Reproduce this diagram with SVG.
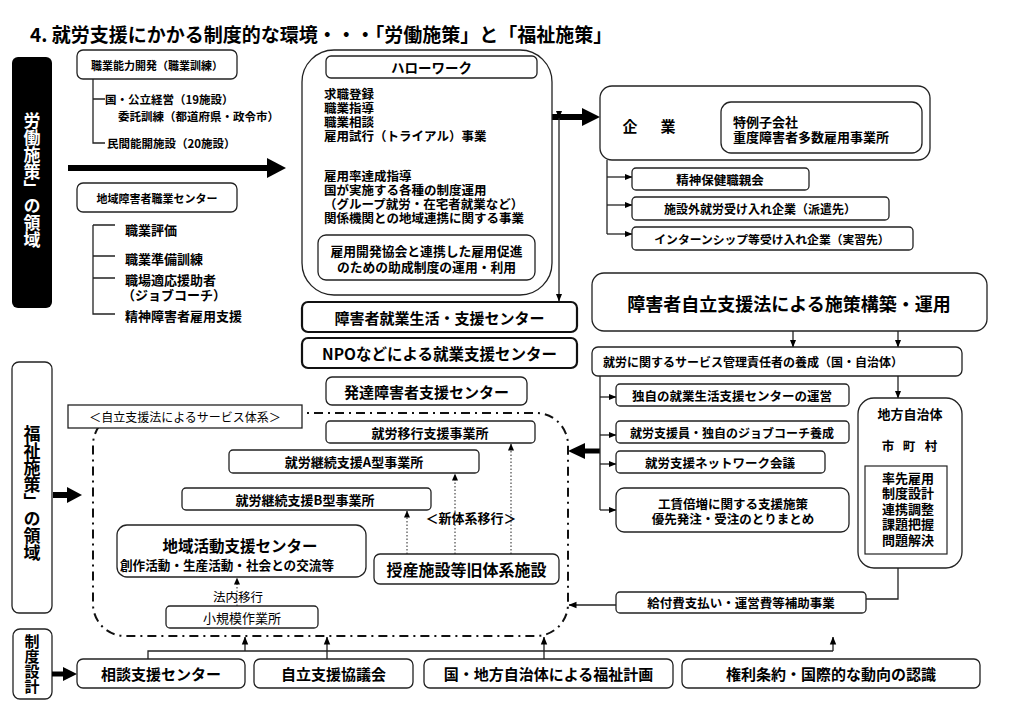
<svg xmlns="http://www.w3.org/2000/svg" width="1023" height="708" viewBox="0 0 1023 708">
<defs>
<marker id="ah" markerWidth="8" markerHeight="8" refX="7.5" refY="4" orient="auto" markerUnits="userSpaceOnUse"><path d="M0,0.8 L8,4 L0,7.2 z" fill="#000"/></marker>
<marker id="ahs" markerWidth="7" markerHeight="7" refX="6.5" refY="3.5" orient="auto" markerUnits="userSpaceOnUse"><path d="M0,0.5 L7,3.5 L0,6.5 z" fill="#000"/></marker>
</defs>
<style>
text{font-family:"Noto Sans CJK JP","Noto Sans CJK SC",sans-serif;font-weight:700;fill:#000;dominant-baseline:central}
.box{fill:#fff;stroke:#222;stroke-width:1.3}
.bx2{fill:#fff;stroke:#111;stroke-width:2.2}
.ln{fill:none;stroke:#222;stroke-width:1.3}
.c{text-anchor:middle}
.dot{fill:none;stroke:#222;stroke-width:1;stroke-dasharray:1.5 2}
.dd{fill:none;stroke:#111;stroke-width:2;stroke-dasharray:9 5 2 5}
.v{writing-mode:vertical-rl;text-anchor:middle}
.thick{stroke:#000;fill:none}
</style>
<rect width="1023" height="708" fill="#fff"/>

<text x="30" y="33" style="font-size:19px">4. 就労支援にかかる制度的な環境・・・「労働施策」と「福祉施策」</text>

<g id="labor-label">
<rect x="12" y="57" width="40" height="251" rx="6" fill="#000"/>
<text class="v" x="32" y="180" style="font-size:17px;fill:#fff">労働施策」の領域</text>
</g>

<g id="welfare-label">
<rect x="12" y="362" width="40" height="251" rx="7" class="box"/>
<text class="v" x="32" y="493" style="font-size:17px">福祉施策」の領域</text>
</g>

<g id="system-label">
<rect x="13" y="629" width="39" height="70" rx="7" class="box"/>
<text class="v" x="32" y="664" style="font-size:15px">制度設計</text>
</g>

<g id="connectors">
<path class="ln" d="M93,79 V143 H105 M93,99 H105"/>
<path class="ln" d="M93,225 V314 H115 M93,225 H115 M93,256 H115 M93,278 H115"/>
<line class="thick" x1="68" y1="168" x2="270" y2="168" stroke-width="6"/>
<polygon points="267,158 286,168 267,178" fill="#000"/>
<line class="thick" x1="552" y1="117" x2="585" y2="117" stroke-width="6"/>
<polygon points="582,108 600,117 582,126" fill="#000"/>
<line class="thick" x1="600" y1="451" x2="582" y2="451" stroke-width="5"/>
<polygon points="585,443 568,451 585,459" fill="#000"/>
<line class="thick" x1="53" y1="495" x2="70" y2="495" stroke-width="6"/>
<polygon points="67,487 82,495 67,503" fill="#000"/>
<line class="thick" x1="52" y1="674" x2="66" y2="674" stroke-width="5"/>
<polygon points="63,667 77,674 63,681" fill="#000"/>
<line class="ln" x1="559" y1="118" x2="559" y2="301" marker-start="url(#ah)" marker-end="url(#ah)"/>
<path class="ln" d="M607,160 V234"/>
<line class="ln" x1="607" y1="177" x2="632" y2="177" marker-end="url(#ah)"/>
<line class="ln" x1="607" y1="205" x2="632" y2="205" marker-end="url(#ah)"/>
<line class="ln" x1="607" y1="234" x2="632" y2="234" marker-end="url(#ah)"/>
<polygon points="802,179 808,174 808,182" fill="#000"/>
<line class="ln" x1="793" y1="331" x2="793" y2="347" marker-end="url(#ah)"/>
<line class="ln" x1="898" y1="331" x2="898" y2="347" marker-end="url(#ah)"/>
<line class="ln" x1="898" y1="376" x2="898" y2="398" marker-end="url(#ah)"/>
<path class="ln" d="M600,376 V510"/>
<line class="ln" x1="600" y1="397" x2="616" y2="397" marker-end="url(#ah)"/>
<line class="ln" x1="600" y1="435" x2="616" y2="435" marker-end="url(#ah)"/>
<line class="ln" x1="600" y1="464" x2="616" y2="464" marker-end="url(#ah)"/>
<line class="ln" x1="600" y1="510" x2="616" y2="510" marker-end="url(#ah)"/>
<path class="ln" d="M898,568 V599 H866"/>
<line class="ln" x1="616" y1="605" x2="569" y2="605" marker-end="url(#ah)"/>
<rect class="dd" x="93" y="413" width="475" height="223" rx="32"/>
<line class="dot" x1="407" y1="554" x2="407" y2="511" marker-end="url(#ahs)"/>
<line class="dot" x1="455" y1="554" x2="455" y2="474" marker-end="url(#ahs)"/>
<line class="dot" x1="511" y1="554" x2="511" y2="444" marker-end="url(#ahs)"/>
<line class="dot" x1="237" y1="606" x2="237" y2="578" marker-end="url(#ahs)"/>
<path class="ln" d="M148,659 V651 H833"/>
<line class="ln" x1="245" y1="651" x2="245" y2="637" marker-end="url(#ah)"/>
<line class="ln" x1="327" y1="659" x2="327" y2="637" marker-end="url(#ah)"/>
<line class="ln" x1="544" y1="659" x2="544" y2="637" marker-end="url(#ah)"/>
<line class="ln" x1="833" y1="651" x2="833" y2="637" marker-end="url(#ah)"/>
</g>

<g id="vocational-dev">
<rect class="box" x="77" y="50" width="160" height="29" rx="6"/>
<text class="c" x="157" y="64.5" style="font-size:11px">職業能力開発（職業訓練）</text>
<text x="105" y="99" style="font-size:11.5px">国・公立経営（19施設）</text>
<text x="118" y="116" style="font-size:11.5px">委託訓練（都道府県・政令市）</text>
<text x="107" y="143" style="font-size:11.5px">民間能開施設（20施設）</text>
</g>

<g id="regional-center">
<rect class="box" x="77" y="183" width="160" height="29" rx="6"/>
<text class="c" x="157" y="197.5" style="font-size:11px">地域障害者職業センター</text>
<text x="125" y="229" style="font-size:13px">職業評価</text>
<text x="125" y="258" style="font-size:13px">職業準備訓練</text>
<text x="125" y="279" style="font-size:13px">職場適応援助者</text>
<text x="122" y="294" style="font-size:13px">（ジョブコーチ）</text>
<text x="125" y="315" style="font-size:13px">精神障害者雇用支援</text>
</g>

<g id="hellowork">
<rect class="box" x="302" y="50" width="250" height="245" rx="32"/>
<rect class="box" x="326" y="56" width="211" height="22" rx="5"/>
<text class="c" x="431.5" y="67" style="font-size:13.5px">ハローワーク</text>
<g style="font-size:12.5px">
<text x="324" y="93">求職登録</text>
<text x="324" y="107">職業指導</text>
<text x="324" y="121">職業相談</text>
<text x="324" y="135">雇用試行（トライアル）事業</text>
<text x="324" y="175">雇用率達成指導</text>
<text x="324" y="189">国が実施する各種の制度運用</text>
<text x="324" y="203">（グループ就労・在宅者就業など）</text>
<text x="324" y="217">関係機関との地域連携に関する事業</text>
</g>
<rect class="box" x="318" y="235" width="217" height="45" rx="8"/>
<text class="c" x="426.5" y="250" style="font-size:12.8px">雇用開発協会と連携した雇用促進</text>
<text class="c" x="426.5" y="266" style="font-size:12.8px">のための助成制度の運用・利用</text>
</g>

<g id="shugyo-center">
<rect class="bx2" x="302" y="302" width="275" height="30" rx="6"/>
<text class="c" x="439.5" y="317" style="font-size:15px">障害者就業生活・支援センター</text>
</g>
<g id="npo-center">
<rect class="bx2" x="302" y="338" width="275" height="30" rx="6"/>
<text class="c" x="439.5" y="353" style="font-size:15.5px">NPOなどによる就業支援センター</text>
</g>
<g id="hattatsu-center">
<rect class="box" x="326" y="377" width="201" height="28" rx="6"/>
<text class="c" x="426.5" y="391" style="font-size:15px">発達障害者支援センター</text>
</g>

<g id="company">
<rect class="box" x="600" y="86" width="330" height="74" rx="12"/>
<text class="c" x="630" y="125" style="font-size:15px">企</text>
<text class="c" x="668" y="125" style="font-size:15px">業</text>
<rect class="box" x="721" y="102" width="201" height="51" rx="10"/>
<text x="733" y="121" style="font-size:13px">特例子会社</text>
<text x="733" y="136" style="font-size:13px">重度障害者多数雇用事業所</text>
</g>
<g id="oyakai">
<rect class="box" x="632" y="168" width="177" height="22" rx="4"/>
<text class="c" x="720" y="179" style="font-size:12.5px">精神保健職親会</text>
</g>
<g id="haken">
<rect class="box" x="632" y="197" width="257" height="23" rx="4"/>
<text class="c" x="760" y="208.5" style="font-size:12px">施設外就労受け入れ企業（派遣先）</text>
</g>
<g id="intern">
<rect class="box" x="632" y="227" width="281" height="23" rx="4"/>
<text class="c" x="772" y="238.5" style="font-size:11.8px">インターンシップ等受け入れ企業（実習先）</text>
</g>

<g id="jiritsu-law">
<rect class="box" x="592" y="273" width="395" height="58" rx="12"/>
<text class="c" x="789" y="303" style="font-size:18px">障害者自立支援法による施策構築・運用</text>
</g>
<g id="service-manager">
<rect class="box" x="592" y="347" width="370" height="29" rx="6"/>
<text x="603" y="361.5" style="font-size:12px">就労に関するサービス管理責任者の養成（国・自治体）</text>
</g>
<g id="own-center">
<rect class="box" x="616" y="384" width="233" height="22" rx="4"/>
<text class="c" x="732" y="395" style="font-size:12.5px">独自の就業生活支援センターの運営</text>
</g>
<g id="jobcoach">
<rect class="box" x="616" y="421" width="233" height="22" rx="4"/>
<text class="c" x="732" y="432" style="font-size:12px">就労支援員・独自のジョブコーチ養成</text>
</g>
<g id="network">
<rect class="box" x="616" y="451" width="209" height="22" rx="4"/>
<text class="c" x="720" y="462" style="font-size:12.5px">就労支援ネットワーク会議</text>
</g>
<g id="wage">
<rect class="box" x="616" y="488" width="233" height="44" rx="8"/>
<text class="c" x="733" y="503" style="font-size:12.5px">工賃倍増に関する支援施策</text>
<text class="c" x="733" y="518" style="font-size:12.5px">優先発注・受注のとりまとめ</text>
</g>
<g id="local-gov">
<rect class="box" x="858" y="398" width="104" height="170" rx="16"/>
<text class="c" x="910" y="413" style="font-size:13px">地方自治体</text>
<text class="c" x="888" y="445" style="font-size:12.5px">市</text>
<text class="c" x="909" y="445" style="font-size:12.5px">町</text>
<text class="c" x="931" y="445" style="font-size:12.5px">村</text>
<rect x="865" y="466" width="82" height="88" fill="#fff" stroke="#222" stroke-width="1.2"/>
<g style="font-size:13px">
<text class="c" x="908" y="477">率先雇用</text>
<text class="c" x="908" y="492.5">制度設計</text>
<text class="c" x="908" y="508">連携調整</text>
<text class="c" x="908" y="523.5">課題把握</text>
<text class="c" x="908" y="539">問題解決</text>
</g>
</g>
<g id="kyufu">
<rect class="box" x="616" y="592" width="250" height="21" rx="4"/>
<text class="c" x="741" y="602.5" style="font-size:12.5px">給付費支払い・運営費等補助事業</text>
</g>

<g id="service-label">
<rect class="box" x="68" y="405" width="234" height="23"/>
<text class="c" x="185" y="416.5" style="font-size:12px;font-weight:400">＜自立支援法によるサービス体系＞</text>
</g>
<g id="ikou">
<rect class="box" x="326" y="421" width="209" height="22" rx="4"/>
<text class="c" x="430" y="432" style="font-size:13px">就労移行支援事業所</text>
</g>
<g id="keizoku-a">
<rect class="box" x="229" y="450" width="250" height="23" rx="4"/>
<text class="c" x="354" y="461.5" style="font-size:13px">就労継続支援A型事業所</text>
</g>
<g id="keizoku-b">
<rect class="box" x="182" y="488" width="249" height="22" rx="4"/>
<text class="c" x="305" y="499" style="font-size:13px">就労継続支援B型事業所</text>
</g>
<g id="chiiki-katsudo">
<rect class="box" x="117" y="525" width="249" height="52" rx="10"/>
<text class="c" x="240" y="545" style="font-size:15.5px">地域活動支援センター</text>
<text class="c" x="227" y="564" style="font-size:12.6px">創作活動・生産活動・社会との交流等</text>
</g>
<g id="jusan">
<rect class="box" x="374" y="554" width="185" height="30" rx="6"/>
<text class="c" x="466.5" y="569" style="font-size:16px">授産施設等旧体系施設</text>
</g>
<text class="c" x="471" y="517" style="font-size:13px">＜新体系移行＞</text>
<text class="c" x="238" y="596" style="font-size:12.5px;font-weight:400">法内移行</text>
<g id="shokibo">
<rect class="box" x="166" y="606" width="152" height="22" rx="4"/>
<text class="c" x="242" y="617" style="font-size:13px;font-weight:400">小規模作業所</text>
</g>

<g id="soudan">
<rect class="box" x="77" y="659" width="168" height="29" rx="6"/>
<text class="c" x="161" y="673.5" style="font-size:15px">相談支援センター</text>
</g>
<g id="kyogikai">
<rect class="box" x="254" y="659" width="159" height="29" rx="6"/>
<text class="c" x="333.5" y="673.5" style="font-size:15px">自立支援協議会</text>
</g>
<g id="fukushi-keikaku">
<rect class="box" x="424" y="659" width="249" height="29" rx="6"/>
<text class="c" x="548.5" y="673.5" style="font-size:15px">国・地方自治体による福祉計画</text>
</g>
<g id="kenri">
<rect class="box" x="682" y="659" width="298" height="29" rx="6"/>
<text class="c" x="831" y="673.5" style="font-size:15px">権利条約・国際的な動向の認識</text>
</g>
</svg>
